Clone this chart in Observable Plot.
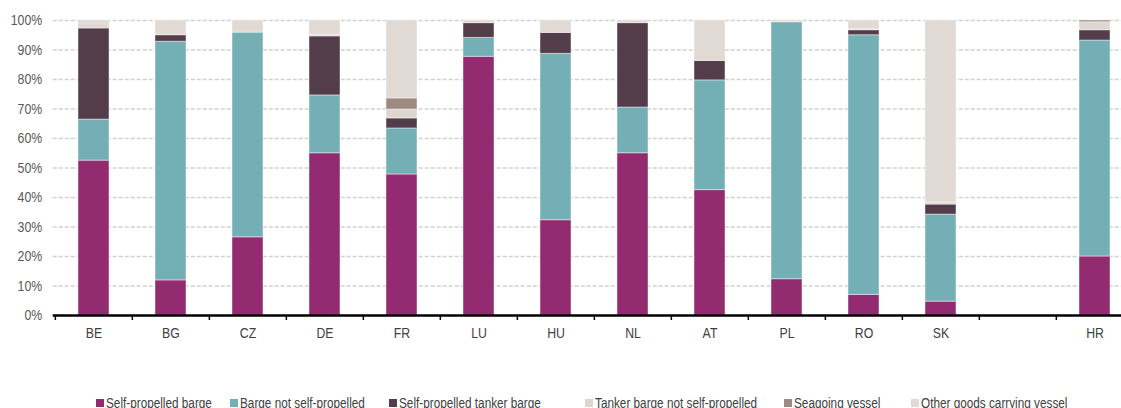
<!DOCTYPE html>
<html><head><meta charset="utf-8">
<script src="https://cdn.jsdelivr.net/npm/d3@7"></script>
<script src="https://cdn.jsdelivr.net/npm/@observablehq/plot@0.6"></script>
<style>
html,body{margin:0;padding:0;background:#fff;overflow:hidden;width:1121px;height:408px}
#chart{position:relative;width:1121px;height:408px;font-family:"Liberation Sans Narrow","Arial Narrow","Liberation Sans",sans-serif}
#chart svg{overflow:visible}
.item{position:absolute;top:395px;display:flex;align-items:center;font-size:14px;line-height:16px;color:#404040;white-space:nowrap}
.sw{width:8px;height:8px;margin-right:2px;flex:none}
.lt{display:inline-block;transform:scaleX(0.84);transform-origin:0 50%}
</style></head><body><div id="chart"></div>
<script>
const countries = ["BE","BG","CZ","DE","FR","LU","HU","NL","AT","PL","RO","SK","HR"];
const xDomain = ["BE","BG","CZ","DE","FR","LU","HU","NL","AT","PL","RO","SK","","HR"];
const yTicks = [0,10,20,30,40,50,60,70,80,90,100];
const vesselTypes = ["Self-propelled barge","Barge not self-propelled","Self-propelled tanker barge","Tanker barge not self-propelled","Seagoing vessel","Other goods carrying vessel"];
const colors = ["#922B70","#74AFB6","#533D4A","#DDD6D1","#9D8B82","#E0D9D4"];
const legendX = [96,230,389,585,784,911];

const selfPropelledBarge          = [52.5, 11.9, 26.5, 55.0, 47.8, 87.7, 32.3, 55.0, 42.5, 12.3,  7.0,  4.7, 20.0];
const bargeNotSelfPropelled       = [13.9, 80.9, 69.4, 19.6, 15.6,  6.4, 56.4, 15.5, 37.2, 87.1, 88.0, 29.5, 73.2];
const selfPropelledTankerBarge    = [30.9,  2.2,  0.0, 20.0,  3.4,  5.0,  7.1, 28.6,  6.6,  0.0,  1.7,  3.4,  3.5];
const tankerBargeNotSelfPropelled = [ 1.2,  0.0,  0.0,  0.6,  3.0,  0.0,  0.0,  0.0,  0.0,  0.0,  0.3,  0.7,  2.7];
const seagoingVessel              = [ 0.4,  0.0,  0.0,  0.0,  3.8,  0.0,  0.0,  0.0,  0.0,  0.0,  0.0,  0.0,  0.6];
const otherGoodsCarryingVessel    = [ 1.1,  5.0,  4.1,  4.8, 26.4,  0.9,  4.2,  0.9, 13.7,  0.6,  3.0, 61.7,  0.0];

const series = [selfPropelledBarge, bargeNotSelfPropelled, selfPropelledTankerBarge, tankerBargeNotSelfPropelled, seagoingVessel, otherGoodsCarryingVessel];
const data = [];
series.forEach((vals, i) => vals.forEach((v, j) => { if (v > 0) data.push({country: countries[j], type: vesselTypes[i], value: v}); }));

const x0 = 52.7, x1 = 1135;
const step = (x1 - x0) / xDomain.length;

const plot = Plot.plot({
  width: 1121, height: 350,
  marginLeft: x0, marginRight: 0, marginTop: 20, marginBottom: 35,
  x: {domain: xDomain, range: [x0, x1], paddingInner: 0.6, paddingOuter: 0.3, label: null},
  y: {domain: [0, 100], label: null},
  color: {domain: vesselTypes, range: colors},
  style: {fontFamily: '"Liberation Sans Narrow","Arial Narrow","Liberation Sans",sans-serif', fontSize: "15px", color: "#595959", background: "transparent", overflow: "visible"},
  marks: [
    Plot.ruleY(yTicks.filter(d => d > 0), {stroke: "#d2d2d2", strokeWidth: 1.5, strokeDasharray: "4,2"}),
    Plot.barY(data, {x: "country", y: "value", fill: "type", order: vesselTypes, stroke: "#ffffff", strokeOpacity: 0.45, strokeWidth: 1}),
    Plot.ruleY([0], {stroke: "#000", strokeWidth: 2.5}),
    Plot.ruleX(xDomain, {x: d => d, y1: 0, y2: 0, insetBottom: -5, dx: -step / 2, stroke: "#000", strokeWidth: 1.5}),
    Plot.axisY({ticks: yTicks, tickFormat: d => d + "%", tickSize: 0, tickPadding: 11, fontSize: 15, fill: "#595959", label: null}),
    Plot.axisX({tickSize: 0, tickPadding: 12, fontSize: 15, fill: "#404040", label: null})
  ]
});
// condense tick label text (no narrow font installed)
plot.querySelectorAll('g[aria-label$="tick label"] text').forEach(t => {
  const tr = t.getAttribute("transform");
  if (tr) t.setAttribute("transform", tr + " scale(0.82,1)");
  else {
    const x = +t.getAttribute("x") || 0;
    t.removeAttribute("x");
    t.setAttribute("transform", `translate(${x},0) scale(0.82,1)`);
  }
});
const chart = document.getElementById("chart");
chart.appendChild(plot);
vesselTypes.forEach((t, i) => {
  const it = document.createElement("div");
  it.className = "item";
  it.style.left = legendX[i] + "px";
  it.innerHTML = `<span class="sw" style="background:${colors[i]}"></span><span class="lt">${t}</span>`;
  chart.appendChild(it);
});
</script></body></html>
